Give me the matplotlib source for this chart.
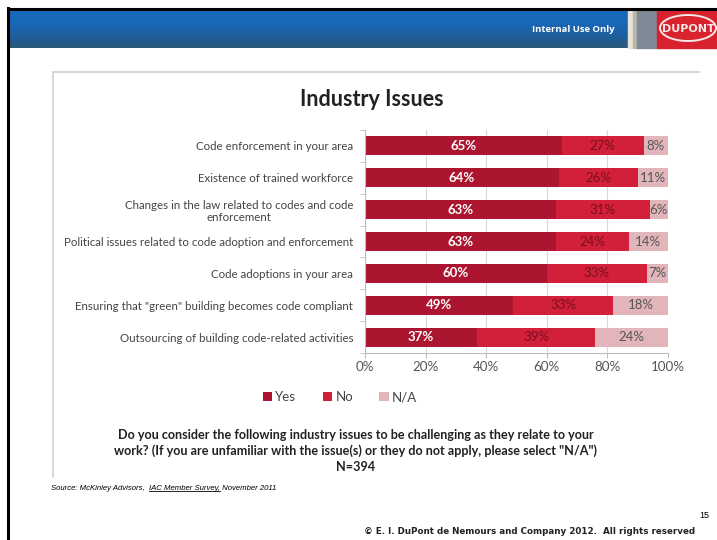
import numpy as np
import matplotlib
matplotlib.use('Agg')
import matplotlib.pyplot as plt
from matplotlib.patches import Rectangle, Ellipse

# survey answers, top row first
issues = ['Code enforcement in your area',
          'Existence of trained workforce',
          'Changes in the law related to codes and code\nenforcement',
          'Political issues related to code adoption and enforcement',
          'Code adoptions in your area',
          'Ensuring that "green" building becomes code compliant',
          'Outsourcing of building code-related activities']
yes = [65, 64, 63, 63, 60, 49, 37]
no = [27, 26, 31, 24, 33, 33, 39]
na = [8, 11, 6, 14, 7, 18, 24]
series_names = ['Yes', 'No', 'N/A']
x_ticks = [0, 20, 40, 60, 80, 100]

COLORS = ['#ab1530', '#d21f3a', '#e2b5ba']
LABEL_COLORS = ['white', '#7a0f1e', '#555555']
FONT = 'Lato'

W, H = 717, 540
fig = plt.figure(figsize=(W / 100, H / 100), dpi=100)

# slide background in pixel coordinates
bg = fig.add_axes([0, 0, 1, 1], zorder=0)
bg.set_xlim(0, W)
bg.set_ylim(H, 0)
bg.axis('off')

# header band with a vertical gradient
grad = np.linspace(0, 1, 64)[:, None]
header_cmap = matplotlib.colors.LinearSegmentedColormap.from_list(
    'hdr', ['#1769bd', '#1a68b8', '#1e5f9e', '#2b5878'])
bg.imshow(grad, cmap=header_cmap, aspect='auto', extent=(8, 628, 48, 10), zorder=1)
bg.add_patch(Rectangle((628, 10), 5, 38, color='#e8e4d8', zorder=2))
bg.add_patch(Rectangle((633, 10), 4, 38, color='#b8b8b0', zorder=2))
bg.add_patch(Rectangle((637, 10), 20, 38, color='#7f8a96', zorder=2))
bg.add_patch(Rectangle((657, 10), 60, 38, color='#d8232f', zorder=2))
bg.add_patch(Ellipse((688, 28), 56, 26, facecolor='#d8232f', edgecolor='#f6e6e6', lw=1.4, zorder=3))
bg.text(688, 28.5, 'DUPONT', color='#f6e6e6', fontsize=8, fontweight='bold',
        ha='center', va='center', family='DejaVu Sans Condensed', zorder=4)
bg.text(614, 30, 'Internal Use Only', color='white', fontsize=6.8, fontweight='bold',
        ha='right', va='center', family='Open Sans', zorder=3)

# slide borders
bg.plot([8, W], [8.5, 8.5], color='black', lw=2.2, zorder=3)
bg.plot([8, 8], [8, H], color='black', lw=2.2, zorder=3)

# chart frame
bg.plot([53, 53, 699], [477, 72, 72], color='#d0d0d0', lw=1.2, zorder=1)

# chart
ax = fig.add_axes([365 / W, 1 - 353 / H, 303 / W, 223 / H], zorder=2)
ax.patch.set_alpha(0)
ypos = np.arange(len(issues))
left = np.zeros(len(issues))
for vals, name, color, lcolor in zip([yes, no, na], series_names, COLORS, LABEL_COLORS):
    bars = ax.barh(ypos, vals, left=left, height=0.6, color=color, label=name, zorder=2)
    ax.bar_label(bars, labels=['{}%'.format(v) for v in vals], label_type='center',
                 color=lcolor, fontsize=9.5, family=FONT,
                 fontweight='bold' if name == 'Yes' else 'normal')
    left += np.array(vals)

ax.set_ylim(len(issues) - 0.5, -0.5)
ax.set_xlim(0, 100)
ax.set_xticks(x_ticks)
ax.set_xticklabels(['{}%'.format(t) for t in x_ticks], family=FONT, fontsize=9.6, color='#555555')
ax.set_yticks(ypos)
ax.set_yticklabels(issues, family=FONT, fontsize=8.3, color='#444444', multialignment='center')
ax.set_yticks(np.arange(len(issues) + 1) - 0.5, minor=True)
ax.tick_params(axis='y', which='major', length=0, pad=8.5)
ax.tick_params(axis='y', which='minor', length=3.5, color='#bfbfbf', direction='out')
ax.tick_params(axis='x', length=3.6, color='#bfbfbf', pad=2)
ax.grid(axis='x', color='#d9d9d9', lw=0.8, zorder=0)
ax.set_axisbelow(True)
for side in ['top', 'right']:
    ax.spines[side].set_visible(False)
for side in ['left', 'bottom']:
    ax.spines[side].set_color('#bfbfbf')

fig.text(372 / W, 1 - 100 / H, 'Industry Issues', ha='center', va='center',
         fontsize=15.5, fontweight='bold', family=FONT, color='#222222')

handles, labels = ax.get_legend_handles_labels()
fig.legend(handles, labels, loc='center', bbox_to_anchor=(340 / W, 1 - 397 / H), ncol=3,
           frameon=False, handlelength=0.7, handleheight=0.7, handletextpad=0.25,
           columnspacing=2.0, prop={'family': FONT, 'size': 9.5}, labelcolor='#444444')

fig.text(356 / W, 1 - 451 / H,
         'Do you consider the following industry issues to be challenging as they relate to your\n'
         'work? (If you are unfamiliar with the issue(s) or they do not apply, please select "N/A")\n'
         'N=394',
         ha='center', va='center', fontsize=9.1, fontweight='bold', family=FONT,
         color='#222222', linespacing=1.4)

# source line with underlined survey name
src_y = 1 - 490 / H
t1 = fig.text(51 / W, src_y, 'Source: McKinley Advisors,  ', fontsize=5.6, style='italic',
              family='Liberation Sans', va='baseline')
fig.canvas.draw()
r = fig.canvas.get_renderer()
bb1 = t1.get_window_extent(r)
x2 = bb1.x1 / W
t2 = fig.text(x2, src_y, 'IAC Member Survey,', fontsize=5.6, style='italic',
              family='Liberation Sans', va='baseline')
bb2 = t2.get_window_extent(r)
fig.add_artist(plt.Line2D([bb2.x0 / W, bb2.x1 / W], [src_y - 1.3 / H, src_y - 1.3 / H],
                          color='black', lw=0.6))
fig.text(bb2.x1 / W, src_y, ' November 2011', fontsize=5.6, style='italic',
         family='Liberation Sans', va='baseline')

fig.text(704 / W, 1 - 515 / H, '15', fontsize=6.5, family='Liberation Sans', ha='center', va='center')
fig.text(530 / W, 1 - 531 / H, '\u00a9 E. I. DuPont de Nemours and Company 2012.  All rights reserved',
         fontsize=6.3, family='DejaVu Sans Condensed', fontweight='bold', ha='center', va='center',
         color='#222222')

fig.savefig('out.png', dpi=100)
